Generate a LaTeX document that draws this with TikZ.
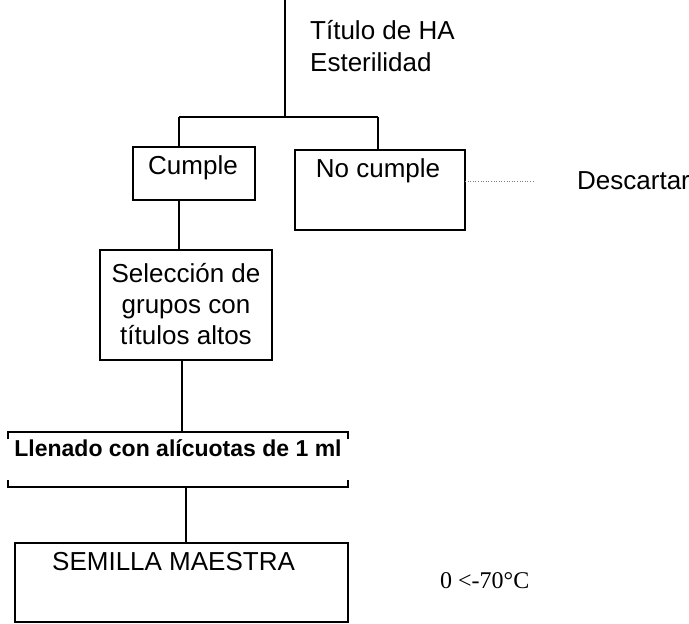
\documentclass[tikz,border=0pt]{standalone}
\usepackage{fontspec}
\setmainfont{Liberation Sans}
\newfontfamily\tempfont{Liberation Serif}
\begin{document}
\begin{tikzpicture}[x=1pt,y=-1pt,
  boxline/.style={draw, line width=1.4pt},
  conn/.style={line width=1.1pt},
  ghost/.style={draw=none, inner sep=0pt, outer sep=0pt},
  txt/.style={font=\fontsize{26}{31}\selectfont, inner sep=0pt},
  boldtxt/.style={font=\bfseries\fontsize{23}{28}\selectfont, inner sep=0pt}]
\useasboundingbox (0,0) rectangle (689,624);
% boxes (drawn as named rectangles)
\node[ghost, boxline, minimum width=122, minimum height=53, anchor=north west] (cu) at (133,147) {};
\node[ghost, boxline, minimum width=170, minimum height=80, anchor=north west] (nc) at (295,150) {};
\node[ghost, boxline, minimum width=172, minimum height=110, anchor=north west] (sel) at (100,250) {};
\node[ghost, minimum width=340, minimum height=55, anchor=north west] (ll) at (8,432) {};
\node[ghost, boxline, minimum width=333, minimum height=79, anchor=north west] (sm) at (15,543) {};
% texts
\node[txt, anchor=west] (tit) at (310,49) {\begin{tabular}{@{}l@{}}Título de HA\\[1pt]Esterilidad\end{tabular}};
\node[txt] (cut) at (193,168) {Cumple};
\node[txt] (nct) at (378,171) {No cumple};
\node[txt, anchor=west] (desc) at (577,181) {Descartar};
\node[txt, align=center] (selt) at (186,304) {Selección de\\grupos con\\títulos altos};
\node[boldtxt] (llt) at (178,448) {Llenado con alícuotas de 1 ml};
\node[txt, anchor=west] (smt) at (52,562) {SEMILLA MAESTRA};
\node[font=\tempfont\fontsize{24}{28}\selectfont, inner sep=0pt, anchor=west] (temp) at (440,581) {0 <-70°C};
% connector points
\coordinate (top) at (285,0);
\coordinate (br) at (285,117);
\coordinate (bl) at (179,117);
\coordinate (brr) at (378,117);
\coordinate (x1) at (182,0);
\coordinate (x2) at (186,0);
\coordinate (dend) at (533,181);
% connectors
\draw[conn] (top) -- (br);
\draw[conn] (bl) -- (brr);
\draw[conn] (bl) -- (bl |- cu.north);
\draw[conn] (brr) -- (brr |- nc.north);
\draw[conn] (bl |- cu.south) -- (bl |- sel.north);
\draw[conn] (x1 |- sel.south) -- (x1 |- ll.north);
\draw[conn] (x2 |- ll.south) -- (x2 |- sm.north);
\draw[line width=0.6pt, gray, dotted] (nc.east |- dend) -- (dend);
% Llenado bracket lines
\draw[line width=1.4pt] ([yshift=-7pt]ll.north west) -- (ll.north west) -- (ll.north east) -- ([yshift=-7pt]ll.north east);
\draw[line width=1.4pt] ([yshift=7pt]ll.south west) -- (ll.south west) -- (ll.south east) -- ([yshift=7pt]ll.south east);
\end{tikzpicture}
\end{document}
